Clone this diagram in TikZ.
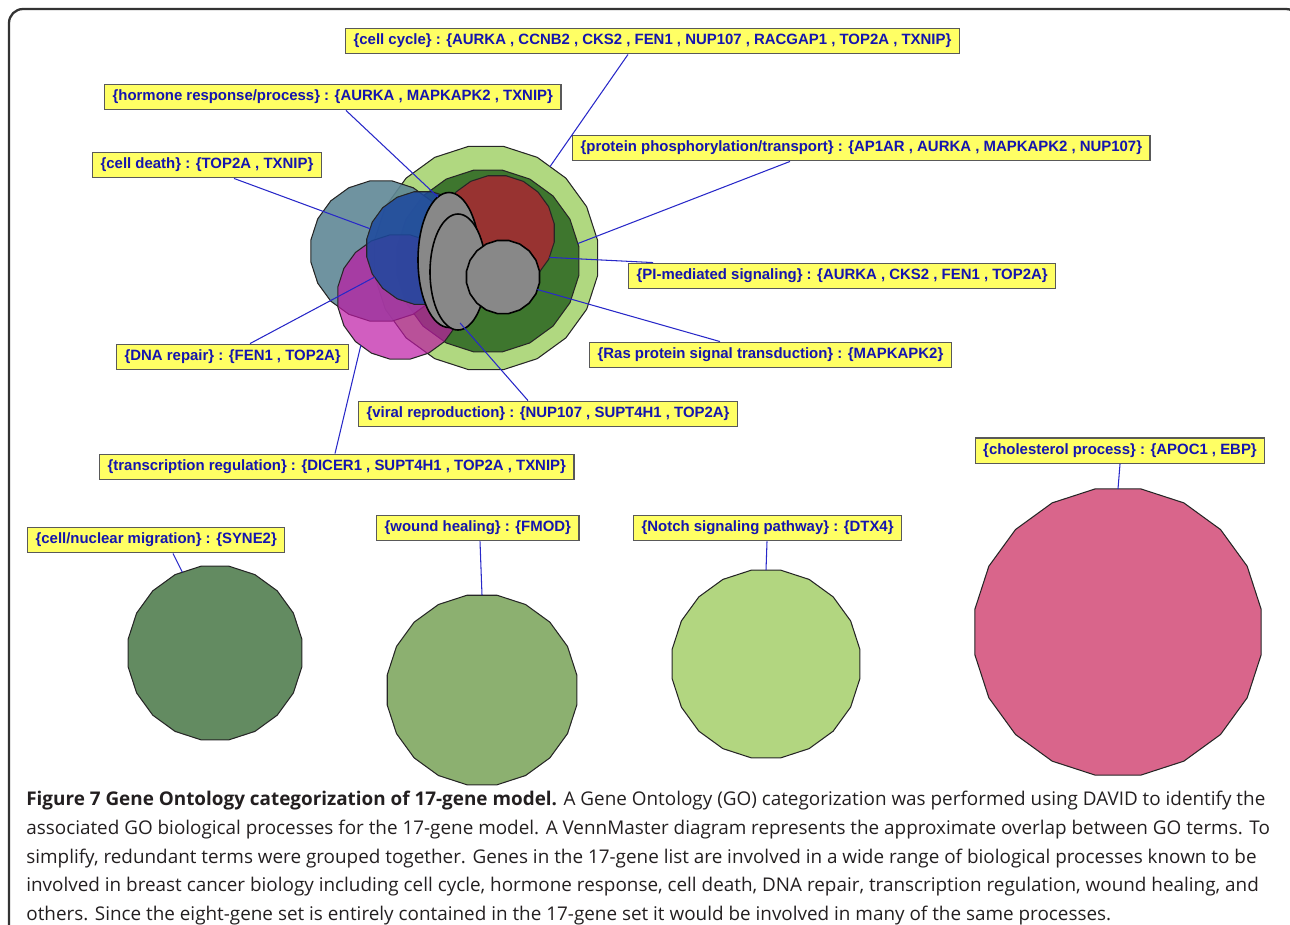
\documentclass[tikz,border=0pt]{standalone}
\usepackage{fontspec}
\setmainfont{Open Sans}
\newfontfamily\lblfont{Liberation Sans}
\usetikzlibrary{shapes.geometric,calc}
\definecolor{lblblue}{RGB}{20,20,175}
\definecolor{lblyellow}{RGB}{255,255,100}
\definecolor{linkblue}{RGB}{40,40,200}
\definecolor{vlgreen}{RGB}{176,216,128}
\definecolor{vdgreen}{RGB}{50,108,38}
\definecolor{vred}{RGB}{168,40,50}
\definecolor{vteal}{RGB}{95,135,150}
\definecolor{vmagenta}{RGB}{190,25,165}
\definecolor{vblue}{RGB}{28,72,158}
\definecolor{vgray}{RGB}{136,136,136}
\definecolor{solodark}{RGB}{99,139,97}
\definecolor{solomid}{RGB}{140,176,112}
\definecolor{sololight}{RGB}{178,214,128}
\definecolor{solopink}{RGB}{217,101,139}
\definecolor{captext}{RGB}{35,31,32}

\begin{document}
\begin{tikzpicture}[x=0.02cm, y=-0.02cm,
    vennset/.style={regular polygon, regular polygon sides=20, minimum size=#1*0.04cm,
      draw=black!85, line width=0.6pt, inner sep=0pt, outer sep=0pt},
    grayset/.style={ellipse, draw=black, line width=0.9pt, fill=vgray, inner sep=0pt, outer sep=0pt},
    gobox/.style={draw=gray!70!black, line width=0.8pt, fill=lblyellow, text=lblblue,
      font=\lblfont\bfseries\fontsize{8.5}{10}\selectfont,
      inner xsep=4.5pt, inner ysep=0pt, minimum height=14.5pt, anchor=west},
    golink/.style={linkblue, line width=0.6pt}]
    \useasboundingbox (0,0) rectangle (1290,924);
    \clip (0,0) rectangle (1290,924);

    % Marco
    \draw[rounded corners=8pt, line width=1.3pt, black!80] (9,9) rectangle (1300,960);

    % Diagrama de Venn
    \node[vennset=113, fill=vlgreen] (lgreen) at (486,258) {};
    \node[vennset=92, fill=vdgreen, fill opacity=0.9] (dgreen) at (488,261) {};
    \node[vennset=71, fill=vteal, fill opacity=0.9] (teal) at (381,251) {};
    \node[vennset=63, fill=vmagenta, fill opacity=0.7] (magenta) at (400,297) {};
    \node[vennset=58, fill=vred, fill opacity=0.85] (red) at (497,233) {};
    \node[vennset=57, fill=vblue, fill opacity=0.85] (blue) at (423,248) {};
    \node[grayset, minimum width=62*0.02cm, minimum height=135*0.02cm] (grayA) at (449,260) {};
    \node[grayset, minimum width=56*0.02cm, minimum height=116*0.02cm] (grayB) at (458,272) {};
    \node[vennset=37, fill=vgray, line width=0.9pt, draw=black] (grayC) at (503,277) {};

    % Conjuntos aislados
    \node[vennset=88, fill=solodark] (migr) at (215,653) {};
    \node[vennset=96, fill=solomid] (wound) at (482,690) {};
    \node[vennset=95, fill=sololight] (notch) at (766,664) {};
    \node[vennset=145, fill=solopink] (chol) at (1118,632) {};

    % Etiquetas
    \node[gobox] (lcc) at (345,41) {\{cell cycle\} : \{AURKA , CCNB2 , CKS2 , FEN1 , NUP107 , RACGAP1 , TOP2A , TXNIP\}};
    \node[gobox] (lhorm) at (104,97) {\{hormone response/process\} : \{AURKA , MAPKAPK2 , TXNIP\}};
    \node[gobox] (ldeath) at (92,165) {\{cell death\} : \{TOP2A , TXNIP\}};
    \node[gobox] (lprot) at (572,148) {\{protein phosphorylation/transport\} : \{AP1AR , AURKA , MAPKAPK2 , NUP107\}};
    \node[gobox] (lpi) at (628,276) {\{PI-mediated signaling\} : \{AURKA , CKS2 , FEN1 , TOP2A\}};
    \node[gobox] (lras) at (589,355) {\{Ras protein signal transduction\} : \{MAPKAPK2\}};
    \node[gobox] (ldna) at (116,357) {\{DNA repair\} : \{FEN1 , TOP2A\}};
    \node[gobox] (lviral) at (358,414) {\{viral reproduction\} : \{NUP107 , SUPT4H1 , TOP2A\}};
    \node[gobox] (ltrans) at (99,467) {\{transcription regulation\} : \{DICER1 , SUPT4H1 , TOP2A , TXNIP\}};
    \node[gobox, anchor=south] (lchol) at (1120,464) {\{cholesterol process\} : \{APOC1 , EBP\}};
    \node[gobox] (lmigr) at (27,540) {\{cell/nuclear migration\} : \{SYNE2\}};
    \node[gobox] (lwound) at (376,528) {\{wound healing\} : \{FMOD\}};
    \node[gobox] (lnotch) at (633,528) {\{Notch signaling pathway\} : \{DTX4\}};

    % Conectores
    \draw[golink] ($(lcc.south west)+(283,0)$) -- (lgreen.55);
    \draw[golink] ($(lhorm.south west)+(242,0)$) -- (grayA.100);
    \draw[golink] ($(ldeath.south west)+(142,0)$) -- (blue.160);
    \draw[golink] ($(lprot.south west)+(218,0)$) -- (dgreen.11);
    \draw[golink] ($(lpi.north west)+(25,0)$) -- (red.-25);
    \draw[golink] ($(lras.north west)+(131,0)$) -- (grayC.-20);
    \draw[golink] ($(ldna.north west)+(134,0)$) -- (blue.211);
    \draw[golink] ($(lviral.north west)+(170,0)$) -- (grayA.-80);
    \draw[golink] ($(ltrans.north west)+(236,0)$) -- (magenta.231);
    \draw[golink] (lchol.south) -- (chol.90);
    \draw[golink] ($(lmigr.south west)+(146,0)$) -- (migr.112);
    \draw[golink] ($(lwound.south west)+(104,0)$) -- (wound.90);
    \draw[golink] ($(lnotch.south west)+(134,0)$) -- (notch.90);

    % Leyenda
    \node[anchor=north west, align=left, inner sep=0pt, text=captext,
      font=\fontsize{10.75}{16.3}\selectfont] (caption) at (26,791)
      {\textbf{Figure 7 Gene Ontology categorization of 17-gene model.} A Gene Ontology (GO) categorization was performed using DAVID to identify the\\
       associated GO biological processes for the 17-gene model. A VennMaster diagram represents the approximate overlap between GO terms. To\\
       simplify, redundant terms were grouped together. Genes in the 17-gene list are involved in a wide range of biological processes known to be\\
       involved in breast cancer biology including cell cycle, hormone response, cell death, DNA repair, transcription regulation, wound healing, and\\
       others. Since the eight-gene set is entirely contained in the 17-gene set it would be involved in many of the same processes.};
\end{tikzpicture}
\end{document}
